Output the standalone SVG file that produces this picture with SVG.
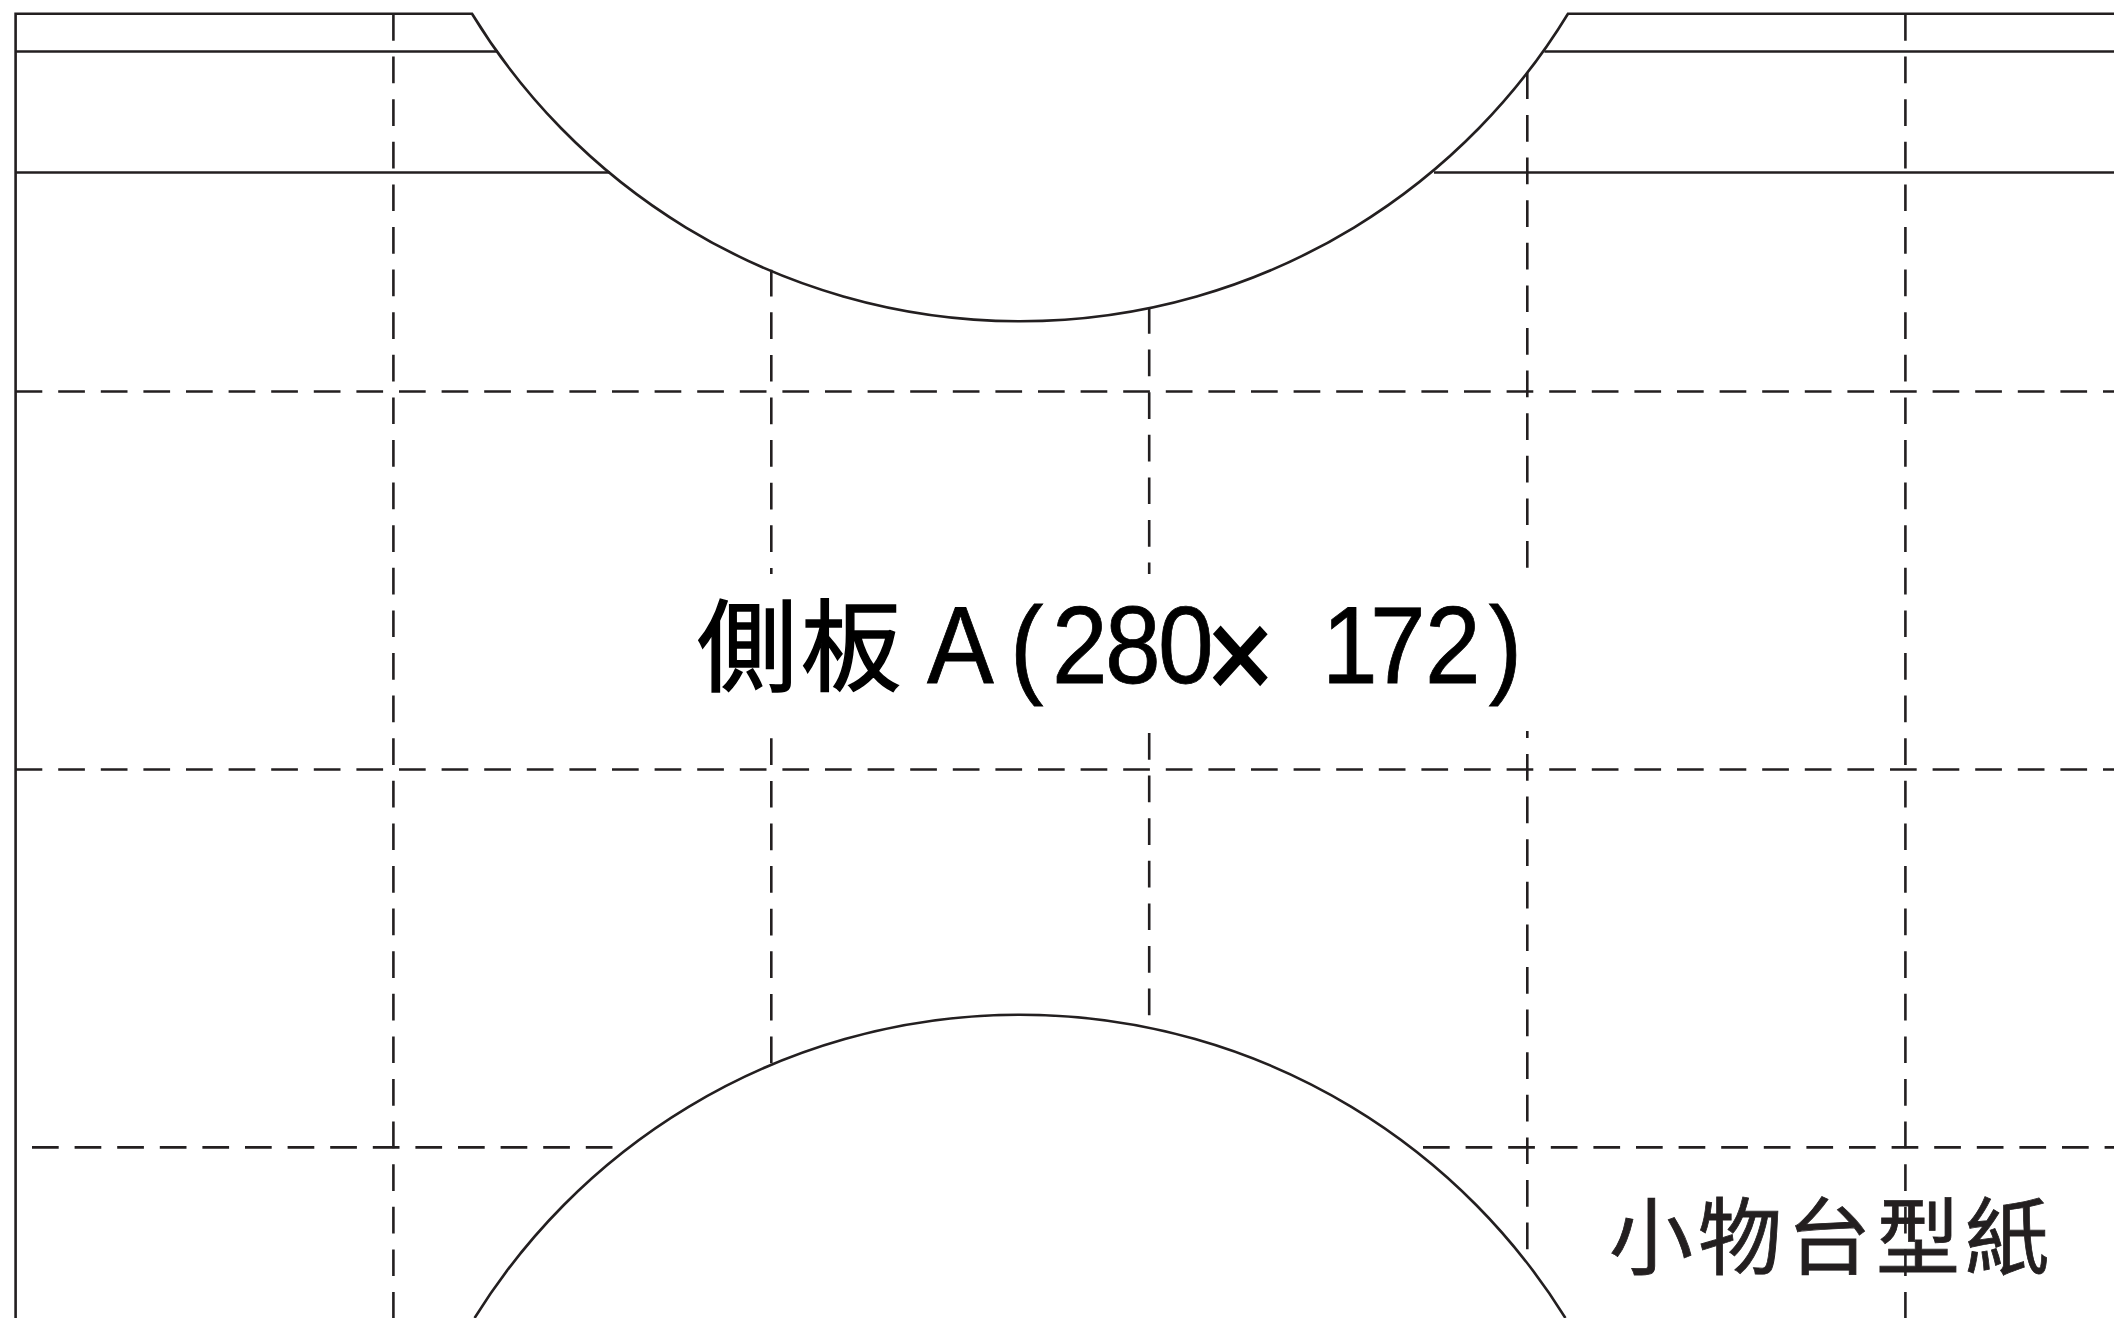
<svg xmlns="http://www.w3.org/2000/svg" width="2114" height="1318" viewBox="0 0 2114 1318">
<style>
.s{fill:none;stroke:#231f20;stroke-width:2.6}
.d{fill:none;stroke:#231f20;stroke-width:2.6;stroke-dasharray:26.7 15.9}
.big{font-family:"Liberation Sans","Noto Sans CJK TC",sans-serif;font-size:110px;fill:#000;stroke:#000;stroke-width:.8}
.cj{font-family:"Noto Sans CJK TC","Liberation Sans",sans-serif;font-size:100px;fill:#000;stroke:#000;stroke-width:1.5}
.x{font-size:126px;stroke-width:3}
.small{font-family:"Noto Sans CJK TC","Liberation Sans",sans-serif;font-size:84px;fill:#231f20;stroke:#231f20;stroke-width:.8}
</style>
<rect width="2114" height="1318" fill="#fff"/>
<g id="dashed-folds">
<path class="d" d="M15.6 391.5H2114"/>
<path class="d" d="M15.6 769.5H2114"/>
<path class="d" d="M32 1147.4H620"/>
<path class="d" d="M1423 1147.4H2114"/>
<path class="d" d="M393.4 14V1318"/>
<path class="d" d="M1905.4 14V1318"/>
<path class="d" d="M771.3 269.7V1064"/>
<path class="d" d="M1149.2 307V1027"/>
<path class="d" d="M1527.3 72.4V1262"/>
</g>
<g id="cut-lines">
<path class="s" d="M15.6 1318V13.7H472A642 642 0 0 0 1568 13.7H2114"/>
<path class="s" d="M15.6 51.5H498"/>
<path class="s" d="M15.6 172.5H610"/>
<path class="s" d="M1544.4 51.5H2114"/>
<path class="s" d="M1434 172.5H2114"/>
<path class="s" d="M474.6 1318A642 642 0 0 1 1565.4 1318"/>
</g>
<rect id="label-mask" x="690" y="574" width="850" height="157" fill="#fff"/>
<g id="label-side-a">
<text class="cj" x="697 801" y="683">側板</text>
<text class="big" transform="scale(.91 1)" y="683"><tspan x="1018.7 1098.9 1110 1156 1214.3 1272.5" y="683">A (280</tspan><tspan class="x" x="1326" y="698">×</tspan><tspan x="1406.6 1452.7 1505.5 1566 1636" y="683"> 172)</tspan></text>
</g>
<g id="label-template">
<text class="small" x="1609 1698 1787 1876 1965" y="1268">小物台型紙</text>
</g>
</svg>
